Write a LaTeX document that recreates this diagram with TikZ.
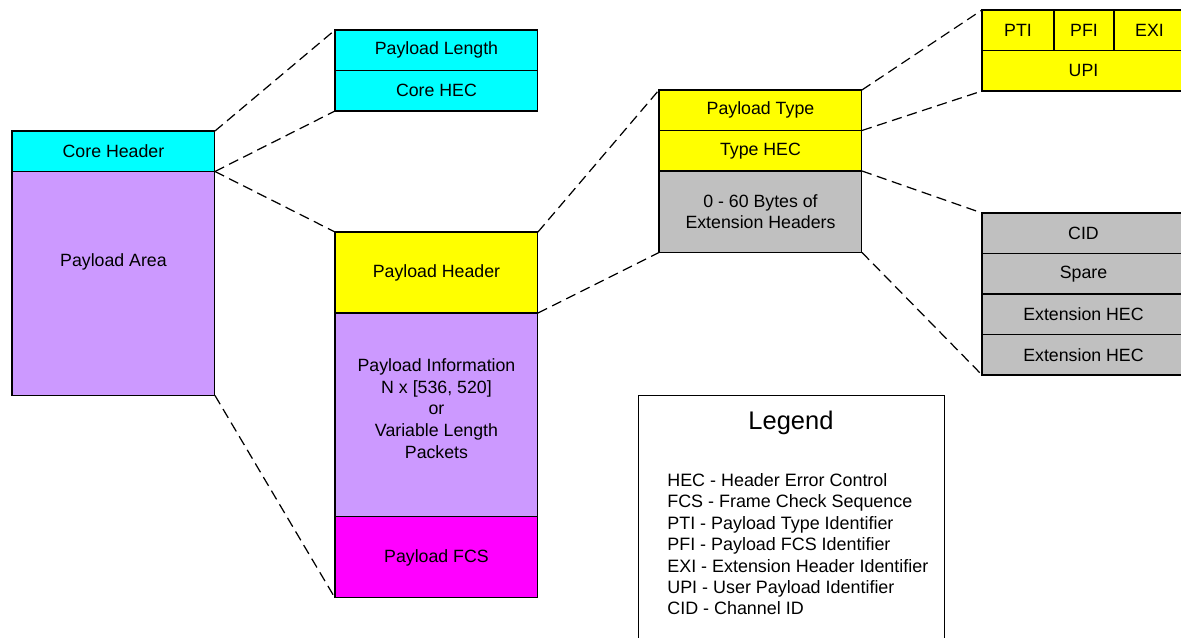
\documentclass[tikz,border=0pt]{standalone}
\usepackage{fontspec}
\setmainfont{Liberation Sans}
\usepackage{tikz}
\usetikzlibrary{positioning}
\definecolor{corecolor}{RGB}{0,255,255}
\definecolor{areacolor}{RGB}{204,153,255}
\definecolor{hdrcolor}{RGB}{255,255,0}
\definecolor{fcscolor}{RGB}{255,0,255}
\definecolor{extcolor}{RGB}{192,192,192}

\begin{document}
\begin{tikzpicture}[
    x=0.02cm, y=-0.02cm,
    field/.style={draw, line width=0.6pt, fill=#1, minimum width=4.06cm, minimum height=0.81cm, inner sep=0pt, outer sep=0pt, font=\fontsize{10.1}{12.3}\selectfont, align=center},
    zoomline/.style={line width=0.7pt, dash pattern=on 5.8pt off 3.2pt}
]
    \useasboundingbox[fill=white] (0,0) rectangle (1181,637);
    \clip (0,0) rectangle (1181,637);

    % GFP frame
    \node[field=corecolor, anchor=north west] (corehdr) at (12,131) {Core Header};
    \node[field=areacolor, minimum height=4.48cm, below=0pt of corehdr,
          label={[font=\fontsize{10.1}{12.3}\selectfont, yshift=0.44cm]center:Payload Area}] (payarea) {};

    % Core header fields
    \node[field=corecolor, anchor=north west] (paylen) at (335,30) {Payload Length};
    \node[field=corecolor, below=0pt of paylen] (corehec) {Core HEC};

    % Payload area fields
    \node[field=hdrcolor, minimum height=1.62cm, anchor=north west] (payhdr) at (335,232) {Payload Header};
    \node[field=areacolor, minimum height=4.08cm, below=0pt of payhdr,
          label={[font=\fontsize{10.1}{12.3}\selectfont, align=center, yshift=0.13cm]center:Payload Information\\N x [536, 520]\\or\\Variable Length\\Packets}] (payinfo) {};
    \node[field=fcscolor, minimum height=1.62cm, below=0pt of payinfo] (payfcs) {Payload FCS};

    % Payload header fields
    \node[field=hdrcolor, anchor=north west] (ptype) at (659,90) {Payload Type};
    \node[field=hdrcolor, below=0pt of ptype] (typehec) {Type HEC};
    \node[field=extcolor, minimum height=1.63cm, below=0pt of typehec] (exthdr) {0 - 60 Bytes of\\Extension Headers};

    % Payload type fields
    \node[field=hdrcolor, minimum width=1.44cm, anchor=north west] (pti) at (982,10) {PTI};
    \node[field=hdrcolor, minimum width=1.2cm, right=0pt of pti] (pfi) {PFI};
    \node[field=hdrcolor, minimum width=1.42cm, right=0pt of pfi] (exi) {EXI};
    \node[field=hdrcolor, anchor=north west] (upi) at (pti.south west) {UPI};

    % Extension header fields
    \node[field=extcolor, anchor=north west] (cid) at (982,213) {CID};
    \node[field=extcolor, below=0pt of cid] (spare) {Spare};
    \node[field=extcolor, below=0pt of spare] (exthecA) {Extension HEC};
    \node[field=extcolor, below=0pt of exthecA] (exthecB) {Extension HEC};

    % Legend
    \node[draw, line width=0.6pt, minimum width=6.12cm, minimum height=5.3cm, inner sep=0pt, anchor=north west] (legend) at (638,395) {};
    \node[font=\fontsize{14.5}{17}\selectfont, anchor=base] (legtitle) at (791,429) {Legend};
    \node[anchor=north west, align=left, inner sep=0pt, font=\fontsize{10.2}{12.2}\selectfont] (legtext) at (667,473)
        {HEC - Header Error Control\\FCS - Frame Check Sequence\\PTI - Payload Type Identifier\\PFI - Payload FCS Identifier\\EXI - Extension Header Identifier\\UPI - User Payload Identifier\\CID - Channel ID};

    % Zoom lines
    \draw[zoomline] (corehdr.north east) -- (paylen.north west);
    \draw[zoomline] (corehdr.south east) -- (corehec.south west);
    \draw[zoomline] (corehdr.south east) -- (payhdr.north west);
    \draw[zoomline] (payarea.south east) -- (payfcs.south west);
    \draw[zoomline] (payhdr.north east) -- (ptype.north west);
    \draw[zoomline] (payhdr.south east) -- (exthdr.south west);
    \draw[zoomline] (ptype.north east) -- (pti.north west);
    \draw[zoomline] (ptype.south east) -- (upi.south west);
    \draw[zoomline] (typehec.south east) -- (cid.north west);
    \draw[zoomline] (exthdr.south east) -- (exthecB.south west);
\end{tikzpicture}
\end{document}
